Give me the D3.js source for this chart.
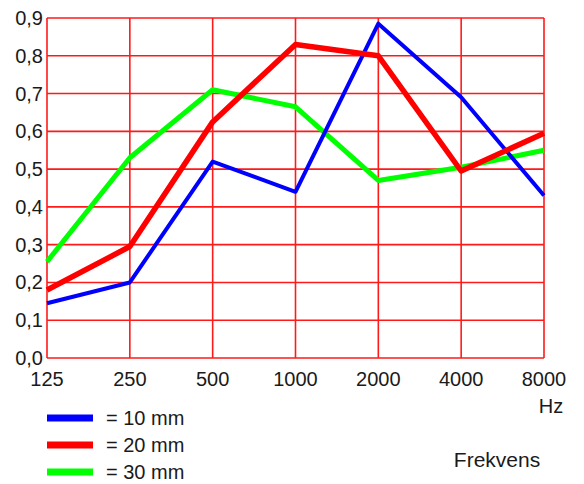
<!DOCTYPE html>
<html lang="en">
	<head>
		<meta charset="utf-8">
		<title>Frekvens</title>
		<script type="text/javascript" src="https://cdn.jsdelivr.net/npm/d3@7"></script>
		<style type="text/css">
			body { margin: 0; background: #fff; }
			text { font-family: "Liberation Sans", Arial, sans-serif; fill: #1a1a1a; }
		</style>
	</head>
	<body>
		<script type="text/javascript">

			//Width and height
			var w = 584;
			var h = 484;

			//Data
			var freqs = ["125", "250", "500", "1000", "2000", "4000", "8000"];
			var yTicks = [0, 0.1, 0.2, 0.3, 0.4, 0.5, 0.6, 0.7, 0.8, 0.9];
			var seriesNames = ["= 10 mm", "= 20 mm", "= 30 mm"];
			var mm10 = [0.145, 0.20, 0.52, 0.44, 0.885, 0.69, 0.43];
			var mm20 = [0.18, 0.295, 0.625, 0.83, 0.80, 0.495, 0.595];
			var mm30 = [0.255, 0.53, 0.71, 0.665, 0.47, 0.505, 0.55];

			var colors = ["#0000ff", "#ff0000", "#00ff00"];
			var widths = [4, 5.5, 5];

			var xScale = d3.scalePoint()
						.domain(freqs)
						.range([47, 544]);

			var yScale = d3.scaleLinear()
						.domain([0, 0.9])
						.range([358, 18]);

			//Create SVG element
			var svg = d3.select("body")
						.append("svg")
						.attr("width", w)
						.attr("height", h);

			var fmt = function(d) { return d3.format(".1f")(d).replace(".", ","); };

			//Grid lines
			svg.append("g")
				.selectAll("line")
				.data(yTicks)
				.enter()
				.append("line")
				.attr("x1", xScale.range()[0])
				.attr("x2", xScale.range()[1])
				.attr("y1", function(d) { return yScale(d); })
				.attr("y2", function(d) { return yScale(d); })
				.attr("stroke", "#ff1a1a")
				.attr("stroke-width", 1.6);

			svg.append("g")
				.selectAll("line")
				.data(freqs)
				.enter()
				.append("line")
				.attr("x1", function(d) { return xScale(d); })
				.attr("x2", function(d) { return xScale(d); })
				.attr("y1", yScale(0))
				.attr("y2", yScale(0.9))
				.attr("stroke", "#ff1a1a")
				.attr("stroke-width", 1.6);

			//Axis labels
			svg.append("g")
				.selectAll("text")
				.data(yTicks)
				.enter()
				.append("text")
				.text(fmt)
				.attr("x", 43)
				.attr("y", function(d) { return yScale(d) + 7; })
				.attr("text-anchor", "end")
				.attr("font-size", "20px");

			svg.append("g")
				.selectAll("text")
				.data(freqs)
				.enter()
				.append("text")
				.text(function(d) { return d; })
				.attr("x", function(d) { return xScale(d); })
				.attr("y", 386)
				.attr("text-anchor", "middle")
				.attr("font-size", "20px");

			svg.append("text")
				.text("Hz")
				.attr("x", 551)
				.attr("y", 413)
				.attr("text-anchor", "middle")
				.attr("font-size", "20px");

			svg.append("text")
				.text("Frekvens")
				.attr("x", 497)
				.attr("y", 467)
				.attr("text-anchor", "middle")
				.attr("font-size", "21px");

			//Lines, drawn green first so red ends on top
			var line = d3.line()
						.x(function(d, i) { return xScale(freqs[i]); })
						.y(function(d) { return yScale(d); });

			var allSeries = [mm10, mm20, mm30];
			var order = [2, 0, 1];

			svg.append("g")
				.selectAll("path")
				.data(order)
				.enter()
				.append("path")
				.attr("d", function(k) { return line(allSeries[k]); })
				.attr("fill", "none")
				.attr("stroke", function(k) { return colors[k]; })
				.attr("stroke-width", function(k) { return widths[k]; })
				.attr("stroke-linejoin", "round");

			//Legend
			var legend = svg.append("g")
							.selectAll("g")
							.data(seriesNames)
							.enter()
							.append("g")
							.attr("transform", function(d, i) { return "translate(0," + (418 + i * 27) + ")"; });

			legend.append("line")
				.attr("x1", 47)
				.attr("x2", 93)
				.attr("y1", 0)
				.attr("y2", 0)
				.attr("stroke", function(d, i) { return colors[i]; })
				.attr("stroke-width", 7);

			legend.append("text")
				.text(function(d) { return d; })
				.attr("x", 106)
				.attr("y", 7)
				.attr("font-size", "20px");

		</script>
	</body>
</html>
